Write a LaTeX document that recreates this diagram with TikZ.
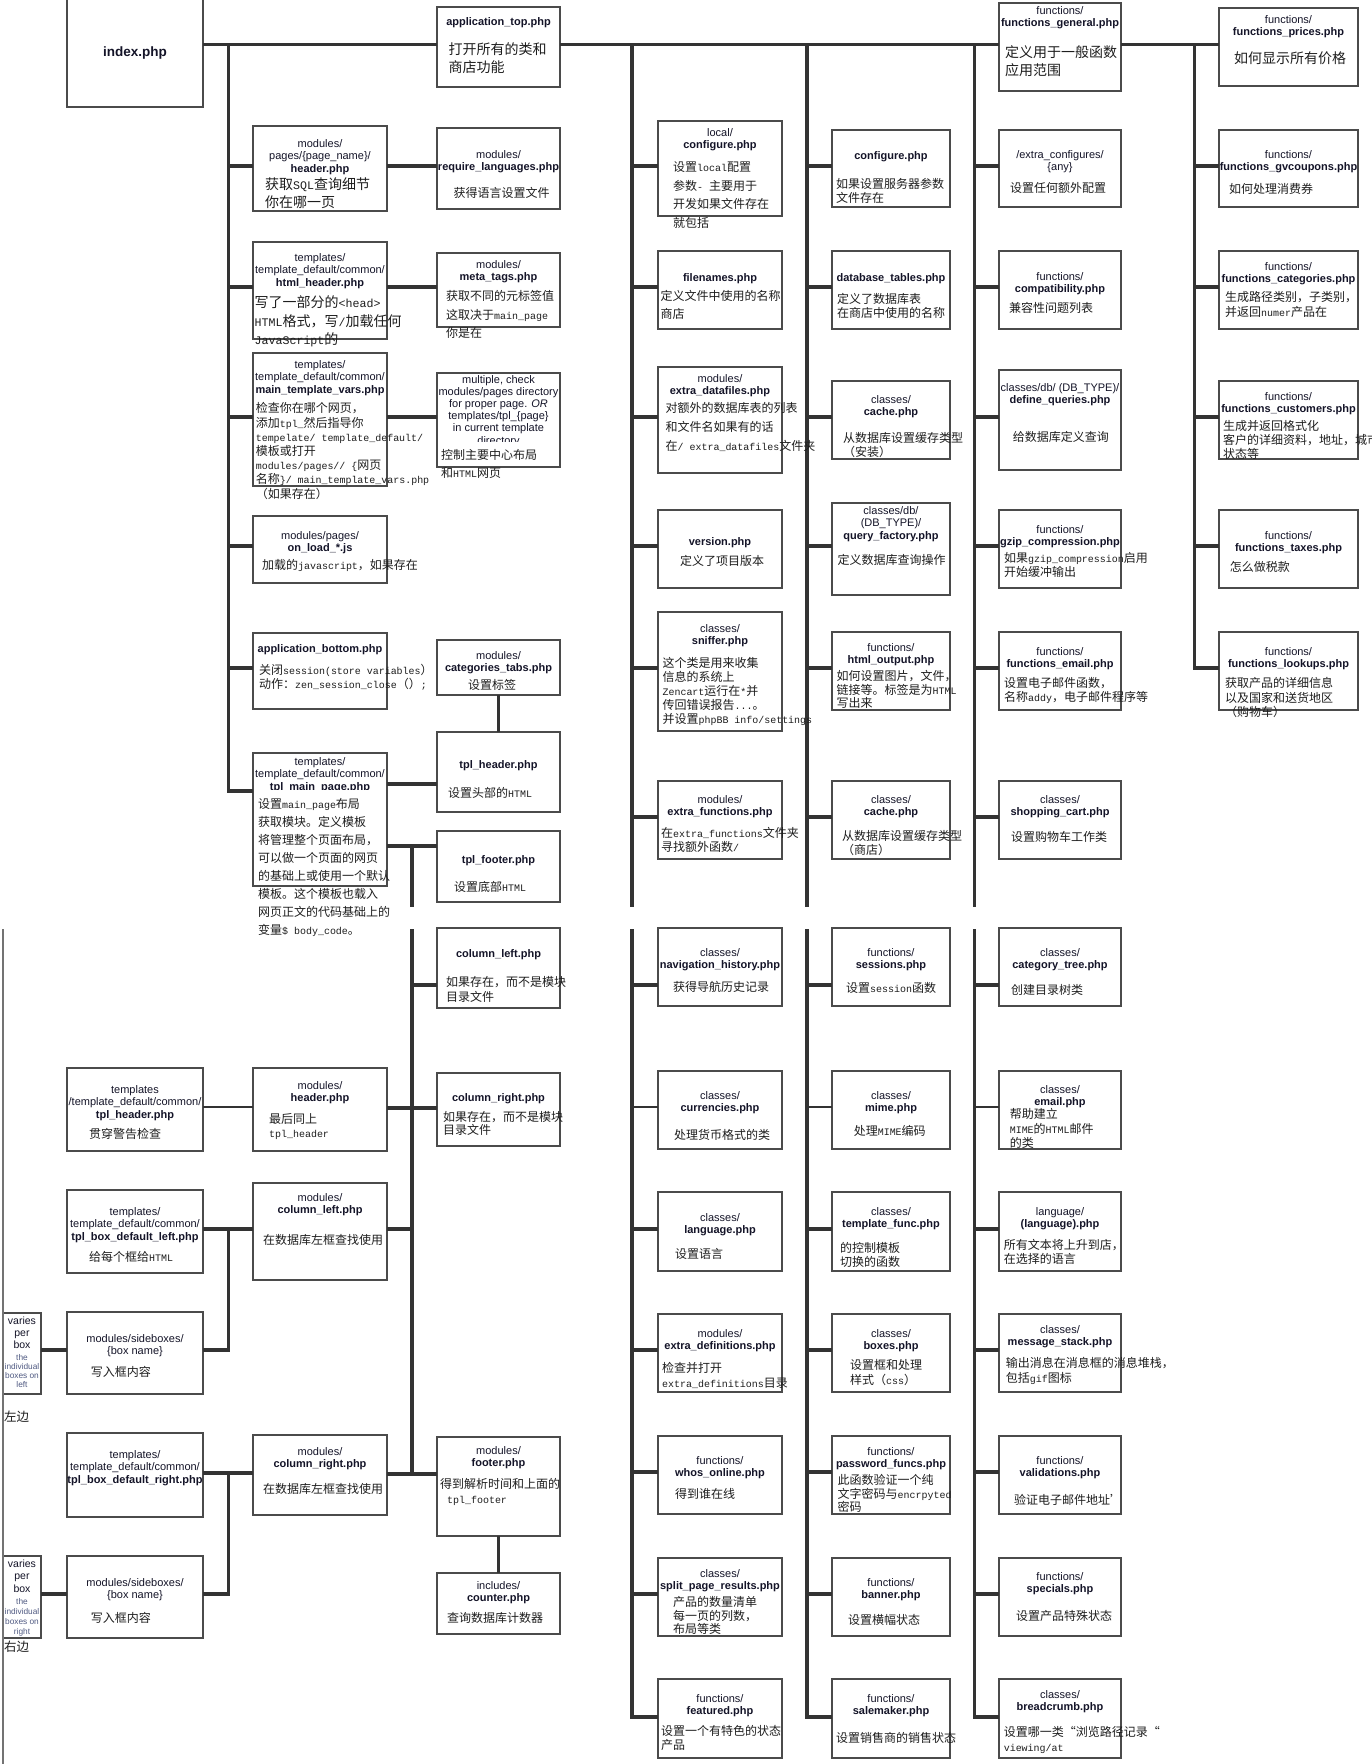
\documentclass[tikz,border=0pt]{standalone}
\usepackage{fontspec}
\setmainfont{Liberation Sans}
\newfontfamily\cjk{Noto Sans CJK SC}
\newfontfamily\mono{Liberation Mono}[Scale=0.83]
\newcommand\asc[1]{{\mono #1}}
\definecolor{hdc}{RGB}{20,20,40}
\definecolor{dsc}{RGB}{30,30,30}
\definecolor{linec}{RGB}{51,51,51}
\definecolor{boxc}{RGB}{75,75,75}
\definecolor{smallc}{RGB}{80,90,130}
\tikzset{
  box/.style={draw=boxc, line width=1.4pt, fill=white, inner sep=0pt, outer sep=0pt, anchor=north west},
  conn/.style={draw=linec, line width=3.2pt},
  thinc/.style={draw=linec, line width=1.2pt},
  leftl/.style={draw=black!55, line width=1.8pt},
  hdr/.style={font=\fontsize{11}{12.8}\selectfont, text=hdc, align=center, inner sep=0pt, anchor=north},
  dscS/.style={font=\cjk\fontsize{12}{#1}\selectfont, text=dsc, align=left, inner sep=0pt, anchor=north west},
  dscL/.style={font=\cjk\fontsize{14}{#1}\selectfont, text=dsc, align=left, inner sep=0pt, anchor=north west},
}
\newcommand\bx[5]{\node[box, minimum width={#4-#2}, minimum height={#5-#3}] (#1) at (#2,#3) {};}
\newcommand\hd[4]{\node[hdr] (#1) at (#2,{#3-4}) {#4};}
\newcommand\ds[5]{\node[dscS=#4] (#1) at (#2,{#3-5.5}) {#5};}
\newcommand\dsL[5]{\node[dscL=#4] (#1) at (#2,{#3-6.5}) {#5};}
\newcommand\br[4]{\coordinate (#1) at (#2,#3); \draw[conn] (#1) -- (#1 -| #4.west);}
\newcommand\brt[4]{\coordinate (#1) at (#2,#3); \draw[thinc] (#1) -- (#1 -| #4.west);}
\newcommand\lk[4]{\coordinate (#1) at (0,#2); \draw[conn] (#1 -| #3.east) -- (#1 -| #4.west);}
\begin{document}
\begin{tikzpicture}[x=1pt,y=-1pt]
\fill[white] (0,0) rectangle (1372,1764);
\useasboundingbox (0,0) rectangle (1372,1764);

% ---------------- boxes: top section
\bx{idx}{67}{-2}{203}{107}
\bx{apt}{437}{7}{560}{87}
\bx{fgen}{999}{3}{1121}{91}
\bx{fpr}{1219}{8}{1358}{86}
\bx{pgh}{253}{126}{387}{211}
\bx{rql}{437}{128}{560}{209}
\bx{lcf}{658}{121}{782}{216}
\bx{cfg}{832}{130}{950}{207}
\bx{xcf}{999}{130}{1121}{207}
\bx{gvc}{1219}{130}{1358}{207}
\bx{hth}{253}{242}{387}{339}
\bx{mtg}{437}{253}{560}{327}
\bx{fnm}{658}{251}{782}{329}
\bx{dbt}{832}{251}{950}{329}
\bx{cmp}{999}{251}{1121}{329}
\bx{fct}{1219}{251}{1358}{329}
\bx{mtv}{253}{353}{387}{486}
\bx{mul}{437}{373}{560}{467}
\bx{xdf}{658}{367}{782}{473}
\bx{ch1}{832}{381}{950}{459}
\bx{dfq}{999}{370}{1121}{470}
\bx{fcu}{1219}{381}{1358}{459}
\bx{onl}{253}{516}{387}{583}
\bx{ver}{658}{510}{782}{588}
\bx{qfa}{832}{503}{950}{595}
\bx{gzp}{999}{510}{1121}{588}
\bx{tax}{1219}{510}{1358}{588}
\bx{apb}{253}{633}{387}{709}
\bx{ctb}{437}{640}{560}{695}
\bx{snf}{658}{612}{782}{731}
\bx{hto}{832}{632}{950}{710}
\bx{fem}{999}{632}{1121}{710}
\bx{lku}{1219}{632}{1358}{710}
\bx{tmp}{253}{753}{387}{886}
\bx{tph}{437}{732}{560}{812}
\bx{tpf}{437}{831}{560}{902}
\bx{xfn}{658}{781}{782}{859}
\bx{ch2}{832}{781}{950}{859}
\bx{spc}{999}{781}{1121}{859}

% ---------------- boxes: bottom section
\bx{th2}{67}{1068}{203}{1151}
\bx{mhd}{253}{1068}{387}{1151}
\bx{bxl}{67}{1190}{203}{1273}
\bx{mcl}{253}{1183}{387}{1280}
\bx{vl}{3}{1313}{41}{1394}
\bx{sbl}{67}{1312}{203}{1394}
\bx{bxr}{67}{1433}{203}{1517}
\bx{mcr}{253}{1435}{387}{1515}
\bx{vr}{3}{1556}{41}{1638}
\bx{sbr}{67}{1556}{203}{1638}
\bx{cll}{437}{928}{560}{1008}
\bx{clr}{437}{1073}{560}{1146}
\bx{ftr}{437}{1437}{560}{1536}
\bx{cnt}{437}{1573}{560}{1634}
% column D
\bx{nvh}{658}{928}{782}{1006}
\bx{cur}{658}{1071}{782}{1149}
\bx{lng}{658}{1192}{782}{1271}
\bx{xdef}{658}{1314}{782}{1392}
\bx{who}{658}{1436}{782}{1514}
\bx{spr}{658}{1558}{782}{1636}
\bx{fea}{658}{1679}{782}{1758}
% column E
\bx{ses}{832}{928}{950}{1006}
\bx{mim}{832}{1071}{950}{1149}
\bx{tfn}{832}{1192}{950}{1271}
\bx{bxs}{832}{1314}{950}{1392}
\bx{pwd}{832}{1436}{950}{1514}
\bx{ban}{832}{1558}{950}{1636}
\bx{sal}{832}{1679}{950}{1758}
% column F
\bx{ctr}{999}{928}{1121}{1006}
\bx{eml}{999}{1071}{1121}{1149}
\bx{lgl}{999}{1192}{1121}{1271}
\bx{msg}{999}{1314}{1121}{1392}
\bx{val}{999}{1436}{1121}{1514}
\bx{spe}{999}{1558}{1121}{1636}
\bx{brd}{999}{1679}{1121}{1758}

% ---------------- connectors: top section
\coordinate (tr) at (0,44.5);
\draw[conn] (tr -| idx.east) -- (tr -| apt.west);
\draw[conn] (tr -| apt.east) -- (tr -| fgen.west);
\draw[conn] (tr -| fgen.east) -- (tr -| fpr.west);
% V1
\coordinate (v1t) at (228.5,44.5); \coordinate (v1b) at (228.5,791);
\draw[conn] (v1t) -- (v1b) -- (v1b -| tmp.west);
\br{a1}{228.5}{166}{pgh}
\br{a2}{228.5}{287}{hth}
\br{a3}{228.5}{417}{mtv}
\br{a4}{228.5}{546}{onl}
\br{a5}{228.5}{668}{apb}
\lk{k1}{166}{pgh}{rql}
\lk{k2}{287}{hth}{mtg}
\lk{k3}{417}{mtv}{mul}
\lk{k4}{784}{tmp}{tph}
\lk{k5}{846}{tmp}{tpf}
\coordinate (p1) at (412,846); \coordinate (p2) at (412,907);
\draw[conn] (p1) -- (p2);
\draw[conn] (ctb.south) -- (tph.north);
% V3
\coordinate (v3t) at (632,44.5); \coordinate (v3b) at (632,907);
\draw[conn] (v3t) -- (v3b);
\br{d1}{632}{166}{lcf}
\br{d2}{632}{287}{fnm}
\br{d3}{632}{417}{xdf}
\br{d4}{632}{546}{ver}
\br{d5}{632}{668}{snf}
\br{d6}{632}{817}{xfn}
% V4
\coordinate (v4t) at (807,44.5); \coordinate (v4b) at (807,907);
\draw[conn] (v4t) -- (v4b);
\br{e1}{807}{166}{cfg}
\br{e2}{807}{287}{dbt}
\br{e3}{807}{417}{ch1}
\br{e4}{807}{546}{qfa}
\br{e5}{807}{668}{hto}
\br{e6}{807}{817}{ch2}
% V5
\coordinate (v5t) at (974.5,44.5); \coordinate (v5b) at (974.5,907);
\draw[conn] (v5t) -- (v5b);
\br{f1}{974.5}{166}{xcf}
\br{f2}{974.5}{287}{cmp}
\br{f3}{974.5}{417}{dfq}
\br{f4}{974.5}{546}{gzp}
\br{f5}{974.5}{668}{fem}
\br{f6}{974.5}{817}{spc}
% V6
\coordinate (v6t) at (1194.6,44.5); \coordinate (v6b) at (1194.6,668);
\draw[conn] (v6t) -- (v6b) -- (v6b -| lku.west);
\br{g1}{1194.6}{166}{gvc}
\br{g2}{1194.6}{287}{fct}
\br{g3}{1194.6}{417}{fcu}
\br{g4}{1194.6}{546}{tax}

% ---------------- connectors: bottom section
\coordinate (fl1) at (3,929); \coordinate (fl2) at (3,1764);
\draw[leftl] (fl1) -- (fl2);
\coordinate (v2u) at (412,929); \coordinate (v2e) at (412,1474);
\draw[conn] (v2u) -- (v2e);
\br{q1}{412}{985}{cll}
\lk{q2}{1108}{mhd}{clr}
\coordinate (q3) at (412,1229); \draw[conn] (q3 -| mcl.east) -- (q3);
\lk{q4}{1474}{mcr}{ftr}
\coordinate (q5) at (0,1107); \draw[thinc] (q5 -| th2.east) -- (q5 -| mhd.west);
\coordinate (q6) at (228.6,1229); \coordinate (q7) at (228.6,1350);
\draw[conn] (q6 -| bxl.east) -- (q6 -| mcl.west);
\draw[conn] (q6) -- (q7) -- (q7 -| sbl.east);
\draw[conn] (q7 -| vl.east) -- (q7 -| sbl.west);
\coordinate (q8) at (228.6,1473); \coordinate (q9) at (228.6,1594);
\draw[conn] (q8 -| bxr.east) -- (q8 -| mcr.west);
\draw[conn] (q8) -- (q9) -- (q9 -| sbr.east);
\draw[conn] (q9 -| vr.east) -- (q9 -| sbr.west);
\draw[conn] (ftr.south) -- (cnt.north);
% V3 bottom
\coordinate (w3u) at (632,929); \coordinate (w3e) at (632,1717);
\draw[conn] (w3u) -- (w3e) -- (w3e -| fea.west);
\br{r31}{632}{985}{nvh}
\brt{r32}{632}{1107}{cur}
\br{r33}{632}{1229}{lng}
\br{r34}{632}{1350}{xdef}
\br{r35}{632}{1472}{who}
\br{r36}{632}{1594}{spr}
% V4 bottom
\coordinate (w4u) at (807,929); \coordinate (w4e) at (807,1717);
\draw[conn] (w4u) -- (w4e) -- (w4e -| sal.west);
\br{r41}{807}{985}{ses}
\brt{r42}{807}{1107}{mim}
\br{r43}{807}{1229}{tfn}
\br{r44}{807}{1350}{bxs}
\br{r45}{807}{1472}{pwd}
\br{r46}{807}{1594}{ban}
% V5 bottom
\coordinate (w5u) at (974.5,929); \coordinate (w5e) at (974.5,1717);
\draw[conn] (w5u) -- (w5e) -- (w5e -| brd.west);
\br{r51}{974.5}{985}{ctr}
\brt{r52}{974.5}{1107}{eml}
\br{r53}{974.5}{1229}{lgl}
\br{r54}{974.5}{1350}{msg}
\br{r55}{974.5}{1472}{val}
\br{r56}{974.5}{1594}{spe}

% ---------------- texts: top section
\node[font=\bfseries\fontsize{13.5}{15}\selectfont, text=hdc, inner sep=0pt] (idx-h) at (135,53) {index.php};
\hd{apt-h}{498.5}{21}{\textbf{application\_top.php}}
\dsL{apt-d}{448.5}{49}{18}{打开所有的类和\\商店功能}
\hd{fgen-h}{1060}{10}{functions/\\\textbf{functions\_general.php}}
\dsL{fgen-d}{1005}{52}{18}{定义用于一般函数\\应用范围}
\hd{fpr-h}{1288.5}{19}{functions/\\\textbf{functions\_prices.php}}
\dsL{fpr-d}{1234}{58}{18}{如何显示所有价格}

\hd{pgh-h}{320}{143}{modules/\\pages/\{page\_name\}/\\\textbf{header.php}}
\dsL{pgh-d}{265}{184}{18}{获取\asc{SQL}查询细节\\你在哪一页}
\hd{rql-h}{498.5}{154}{modules/\\\textbf{require\_languages.php}}
\ds{rql-d}{453.5}{193}{14}{获得语言设置文件}
\hd{lcf-h}{720}{132}{local/\\\textbf{configure.php}}
\ds{lcf-d}{673}{167}{18.5}{设置\asc{local}配置\\参数\asc{- }主要用于\\开发如果文件存在\\就包括}
\hd{cfg-h}{891}{155}{\textbf{configure.php}}
\ds{cfg-d}{836}{184}{13.5}{如果设置服务器参数\\文件存在}
\hd{xcf-h}{1060}{154}{/extra\_configures/\\\{any\}}
\ds{xcf-d}{1010}{188}{14}{设置任何额外配置}
\hd{gvc-h}{1288.5}{154}{functions/\\\textbf{functions\_gvcoupons.php}}
\ds{gvc-d}{1229}{189}{14}{如何处理消费券}

\hd{hth-h}{320}{257}{templates/\\template\_default/common/\\\textbf{html\_header.php}}
\dsL{hth-d}{254.5}{302}{18.5}{写了一部分的\asc{<head>}\\\asc{HTML}格式，写\asc{/}加载任何\\\asc{JavaScript}的}
\hd{mtg-h}{498.5}{264}{modules/\\\textbf{meta\_tags.php}}
\ds{mtg-d}{446}{296}{18.5}{获取不同的元标签值\\这取决于\asc{main\_page}\\你是在}
\hd{fnm-h}{720}{277.5}{\textbf{filenames.php}}
\ds{fnm-d}{660.5}{296}{18}{定义文件中使用的名称\\商店}
\hd{dbt-h}{891}{277.5}{\textbf{database\_tables.php}}
\ds{dbt-d}{837}{299}{14}{定义了数据库表\\在商店中使用的名称}
\hd{cmp-h}{1060}{276}{functions/\\\textbf{compatibility.php}}
\ds{cmp-d}{1009}{308}{14}{兼容性问题列表}
\hd{fct-h}{1288.5}{266}{functions/\\\textbf{functions\_categories.php}}
\ds{fct-d}{1225}{297}{15}{生成路径类别，子类别，\\并返回\asc{numer}产品在}

\hd{mtv-h}{320}{364}{templates/\\template\_default/common/\\\textbf{main\_template\_vars.php}}
\ds{mtv-d}{255.6}{408}{14.2}{检查你在哪个网页，\\添加\asc{tpl\_}然后指导你\\\asc{tempelate/ template\_default/}\\模板或打开\\\asc{modules/pages// \{}网页\\名称\asc{\}/ main\_template\_vars.php}\\（如果存在）}
\node[hdr, font=\fontsize{11}{12.2}\selectfont] (mul-h) at (498.5,375) {multiple, check\\modules/pages directory\\for proper page. \textit{OR}\\templates/tpl\_\{page\}\\in current template\\directory};
\fill[white] (439.5,441.5) rectangle (557.5,448);
\ds{mul-d}{441}{455}{18}{控制主要中心布局\\和\asc{HTML}网页}
\hd{xdf-h}{720}{378}{modules/\\\textbf{extra\_datafiles.php}}
\ds{xdf-d}{665.5}{408}{18.6}{对额外的数据库表的列表\\和文件名如果有的话\\在\asc{/ extra\_datafiles}文件夹}
\hd{ch1-h}{891}{399}{classes/\\\textbf{cache.php}}
\ds{ch1-d}{843}{437.5}{14.5}{从数据库设置缓存类型\\（安装）}
\hd{dfq-h}{1060}{387}{classes/db/ (DB\_TYPE)/\\\textbf{define\_queries.php}}
\ds{dfq-d}{1012.6}{436.5}{14}{给数据库定义查询}
\hd{fcu-h}{1288.5}{396}{functions/\\\textbf{functions\_customers.php}}
\ds{fcu-d}{1223}{426}{14}{生成并返回格式化\\客户的详细资料，地址，城市\\状态等}

\hd{onl-h}{320}{535}{modules/pages/\\\textbf{on\_load\_*.js}}
\ds{onl-d}{262}{565}{14}{加载的\asc{javascript}，如果存在}
\hd{ver-h}{720}{541}{\textbf{version.php}}
\ds{ver-d}{680}{561}{14}{定义了项目版本}
\hd{qfa-h}{891}{510}{classes/db/\\(DB\_TYPE)/\\\textbf{query\_factory.php}}
\ds{qfa-d}{837.5}{560}{14}{定义数据库查询操作}
\hd{gzp-h}{1060}{529}{functions/\\\textbf{gzip\_compression.php}}
\ds{gzp-d}{1004}{558}{14}{如果\asc{gzip\_compression}启用\\开始缓冲输出}
\hd{tax-h}{1288.5}{535}{functions/\\\textbf{functions\_taxes.php}}
\ds{tax-d}{1229.6}{567}{14}{怎么做税款}

\hd{apb-h}{320}{648}{\textbf{application\_bottom.php}}
\ds{apb-d}{259}{670}{14}{关闭\asc{session(store variables}）\\动作：\asc{zen\_session\_close}（）\asc{;}}
\hd{ctb-h}{498.5}{655}{modules/\\\textbf{categories\_tabs.php}}
\ds{ctb-d}{468}{685}{14}{设置标签}
\hd{snf-h}{720}{628}{classes/\\\textbf{sniffer.php}}
\ds{snf-d}{662.4}{663}{14}{这个类是用来收集\\信息的系统上\\\asc{Zencart}运行在\asc{*}并\\传回错误报告\asc{...}。\\并设置\asc{phpBB  info/settings}}
\hd{hto-h}{891}{647}{functions/\\\textbf{html\_output.php}}
\ds{hto-d}{836.5}{676}{13.5}{如何设置图片，文件，\\链接等。标签是为\asc{HTML}\\写出来}
\hd{fem-h}{1060}{651}{functions/\\\textbf{functions\_email.php}}
\ds{fem-d}{1004}{683}{14}{设置电子邮件函数，\\名称\asc{addy}，电子邮件程序等}
\hd{lku-h}{1288.5}{651}{functions/\\\textbf{functions\_lookups.php}}
\ds{lku-d}{1225}{683}{14.5}{获取产品的详细信息\\以及国家和送货地区\\（购物车）}

\hd{tmp-h}{320}{761}{templates/\\template\_default/common/\\\textbf{tpl\_main\_page.php}}
\fill[white] (255,789.5) rectangle (385,797);
\ds{tmp-d}{258}{804}{17.9}{设置\asc{main\_page}布局\\获取模块。定义模板\\将管理整个页面布局，\\可以做一个页面的网页\\的基础上或使用一个默认\\模板。这个模板也载入\\网页正文的代码基础上的\\变量\asc{\$ body\_code}。}
\hd{tph-h}{498.5}{764}{\textbf{tpl\_header.php}}
\ds{tph-d}{448}{793}{14}{设置头部的\asc{HTML}}
\hd{tpf-h}{498.5}{859}{\textbf{tpl\_footer.php}}
\ds{tpf-d}{454}{887}{14}{设置底部\asc{HTML}}
\hd{xfn-h}{720}{799}{modules/\\\textbf{extra\_functions.php}}
\ds{xfn-d}{661}{833}{14}{在\asc{extra\_functions}文件夹\\寻找额外函数\asc{/}}
\hd{ch2-h}{891}{799}{classes/\\\textbf{cache.php}}
\ds{ch2-d}{842}{836}{13.5}{从数据库设置缓存类型\\（商店）}
\hd{spc-h}{1060}{799}{classes/\\\textbf{shopping\_cart.php}}
\ds{spc-d}{1011}{837}{14}{设置购物车工作类}

% ---------------- texts: bottom section
\hd{th2-h}{135}{1089}{templates\\/template\_default/common/\\\textbf{tpl\_header.php}}
\ds{th2-d}{89}{1134}{14}{贯穿警告检查}
\hd{bxl-h}{135}{1211}{templates/\\template\_default/common/\\\textbf{tpl\_box\_default\_left.php}}
\ds{bxl-d}{89}{1257}{14}{给每个框给\asc{HTML}}
\hd{sbl-h}{135}{1338}{modules/sideboxes/\\\{box name\}}
\ds{sbl-d}{90.6}{1372}{14}{写入框内容}
\hd{bxr-h}{135}{1454}{templates/\\template\_default/common/\\\textbf{tpl\_box\_default\_right.php}}
\hd{sbr-h}{135}{1582}{modules/sideboxes/\\\{box name\}}
\ds{sbr-d}{90.6}{1618}{14}{写入框内容}

\node[hdr, font=\fontsize{10.5}{12}\selectfont] (vl-h) at (22,1317) {varies\\per\\box};
\node[hdr, font=\fontsize{8.3}{9}\selectfont, text=smallc] (vl-s) at (22,1354) {the\\individual\\boxes on\\left};
\node[hdr, font=\fontsize{10.5}{12.5}\selectfont] (vr-h) at (22,1559.5) {varies\\per\\box};
\node[hdr, font=\fontsize{8.3}{9.8}\selectfont, text=smallc] (vr-s) at (22,1598.5) {the\\individual\\boxes on\\right};
\node[font=\cjk\fontsize{12.5}{14}\selectfont, text=dsc, inner sep=0pt, anchor=west] (zb) at (4,1417) {左边};
\node[font=\cjk\fontsize{12.5}{14}\selectfont, text=dsc, inner sep=0pt, anchor=west] (yb) at (4,1647) {右边};

\hd{mhd-h}{320}{1085}{modules/\\\textbf{header.php}}
\ds{mhd-d}{269}{1119}{14}{最后同上\\\asc{tpl\_header}}
\hd{mcl-h}{320}{1197}{modules/\\\textbf{column\_left.php}}
\ds{mcl-d}{263}{1240}{14}{在数据库左框查找使用}
\hd{mcr-h}{320}{1451}{modules/\\\textbf{column\_right.php}}
\ds{mcr-d}{263}{1489}{14}{在数据库左框查找使用}

\hd{cll-h}{498.5}{953}{\textbf{column\_left.php}}
\ds{cll-d}{446}{982}{15}{如果存在，而不是模块\\目录文件}
\hd{clr-h}{498.5}{1097}{\textbf{column\_right.php}}
\ds{clr-d}{443}{1117}{13}{如果存在，而不是模块\\目录文件}
\hd{ftr-h}{498.5}{1450}{modules/\\\textbf{footer.php}}
\ds{ftr-d}{440}{1484}{15}{得到解析时间和上面的\\\hspace*{7pt}\asc{tpl\_footer}}
\hd{cnt-h}{498.5}{1585}{includes/\\\textbf{counter.php}}
\ds{cnt-d}{447}{1618}{14}{查询数据库计数器}

\hd{nvh-h}{720}{952}{classes/\\\textbf{navigation\_history.php}}
\ds{nvh-d}{673}{987}{14}{获得导航历史记录}
\hd{cur-h}{720}{1095}{classes/\\\textbf{currencies.php}}
\ds{cur-d}{674}{1135}{14}{处理货币格式的类}
\hd{lng-h}{720}{1217}{classes/\\\textbf{language.php}}
\ds{lng-d}{675}{1254}{14}{设置语言}
\hd{xdef-h}{720}{1333}{modules/\\\textbf{extra\_definitions.php}}
\ds{xdef-d}{662}{1368}{15}{检查并打开\\\asc{extra\_definitions}目录}
\hd{who-h}{720}{1460}{functions/\\\textbf{whos\_online.php}}
\ds{who-d}{675}{1494}{14}{得到谁在线}
\hd{spr-h}{720}{1573}{classes/\\\textbf{split\_page\_results.php}}
\ds{spr-d}{673}{1602}{13.5}{产品的数量清单\\每一页的列数，\\布局等类}
\hd{fea-h}{720}{1698}{functions/\\\textbf{featured.php}}
\ds{fea-d}{661}{1731}{14}{设置一个有特色的状态\\产品}

\hd{ses-h}{891}{952}{functions/\\\textbf{sessions.php}}
\ds{ses-d}{846}{988}{14}{设置\asc{session}函数}
\hd{mim-h}{891}{1095}{classes/\\\textbf{mime.php}}
\ds{mim-d}{853.6}{1131}{14}{处理\asc{MIME}编码}
\hd{tfn-h}{891}{1211}{classes/\\\textbf{template\_func.php}}
\ds{tfn-d}{840}{1248}{14}{的控制模板\\切换的函数}
\hd{bxs-h}{891}{1333}{classes/\\\textbf{boxes.php}}
\ds{bxs-d}{850}{1365}{15}{设置框和处理\\样式（\asc{css}）}
\hd{pwd-h}{891}{1451}{functions/\\\textbf{password\_funcs.php}}
\ds{pwd-d}{837.5}{1480}{13.5}{此函数验证一个纯\\文字密码与\asc{encrpyted}\\密码}
\hd{ban-h}{891}{1582}{functions/\\\textbf{banner.php}}
\ds{ban-d}{848}{1620}{14}{设置横幅状态}
\hd{sal-h}{891}{1698}{functions/\\\textbf{salemaker.php}}
\ds{sal-d}{836}{1738}{14}{设置销售商的销售状态}

\hd{ctr-h}{1060}{952}{classes/\\\textbf{category\_tree.php}}
\ds{ctr-d}{1011}{990}{14}{创建目录树类}
\hd{eml-h}{1060}{1089}{classes/\\\textbf{email.php}}
\ds{eml-d}{1009.6}{1114}{14.5}{帮助建立\\\asc{MIME}的\asc{HTML}邮件\\的类}
\hd{lgl-h}{1060}{1211}{language/\\\textbf{(language).php}}
\ds{lgl-d}{1003.6}{1245}{14}{所有文本将上升到店，\\在选择的语言}
\hd{msg-h}{1060}{1329}{classes/\\\textbf{message\_stack.php}}
\ds{msg-d}{1005.7}{1363}{15}{输出消息在消息框的消息堆栈，\\包括\asc{gif}图标}
\hd{val-h}{1060}{1460}{functions/\\\textbf{validations.php}}
\ds{val-d}{1014}{1500}{14}{验证电子邮件地址’}
\hd{spe-h}{1060}{1576}{functions/\\\textbf{specials.php}}
\ds{spe-d}{1016}{1616}{14}{设置产品特殊状态}
\hd{brd-h}{1060}{1694}{classes/\\\textbf{breadcrumb.php}}
\ds{brd-d}{1003.6}{1732}{15}{设置哪一类“浏览路径记录“\\\asc{viewing/at}}
\end{tikzpicture}
\end{document}
